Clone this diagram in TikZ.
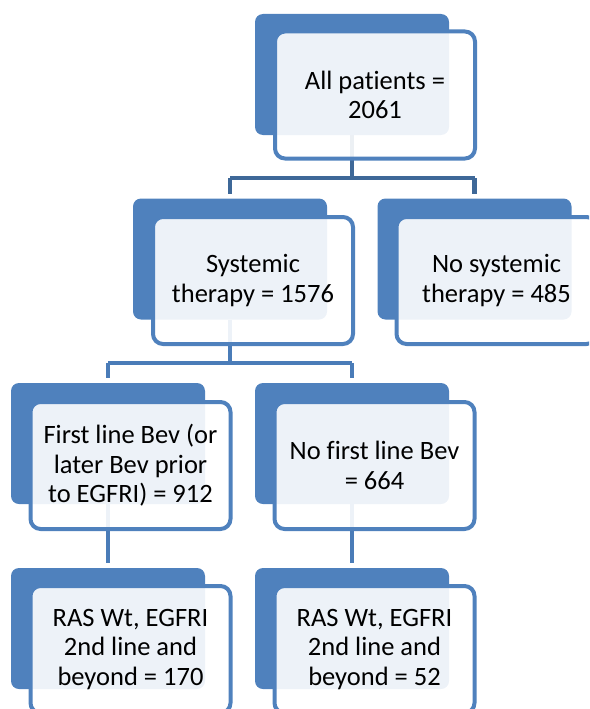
\documentclass[tikz,border=0pt]{standalone}
\usepackage{fontspec}
\setmainfont[Ligatures=NoCommon]{Carlito}
\usetikzlibrary{calc}
\definecolor{accent}{HTML}{4F81BD}
\definecolor{connA}{HTML}{3E6898}
\definecolor{connB}{HTML}{4A7CB8}
\tikzset{
  backbox/.style={rectangle, rounded corners=8pt, fill=accent, draw=none,
    minimum width=194pt, minimum height=121pt, inner sep=0pt},
  frontbox/.style={rectangle, rounded corners=10pt, draw=accent, line width=4pt,
    fill=white, fill opacity=0.9, text opacity=1, minimum width=200pt,
    minimum height=127pt, inner sep=0pt, align=center,
    font=\fontsize{26.5pt}{29.5pt}\selectfont},
  connone/.style={draw=connA, line width=4.5pt},
  conntwo/.style={draw=connB, line width=4.5pt}
}
\begin{document}
\begin{tikzpicture}[x=1pt,y=-1pt]
\useasboundingbox (0,0) rectangle (589,709);
\begin{scope}
\clip (0,0) rectangle (589,709);
\coordinate (ctop) at (352,74.5);
\coordinate (csys) at (230,259);
\coordinate (cnosys) at (474.5,259);
\coordinate (cbev) at (108,443.5);
\coordinate (cnobev) at (352,443.5);
\coordinate (cras1) at (108,628.5);
\coordinate (cras2) at (352,628.5);
% connectors (drawn first, under the boxes)
\draw[connone] ($(ctop)+(0,60.5)$) -- ($(ctop)+(0,103.5)$) coordinate (j1);
\draw[connone] ($(csys)+(0,-81)$) coordinate (j1a) -- ($(cnosys)+(0,-81)$) coordinate (j1b);
\draw[connone] (j1a) -- ($(csys)+(0,-65.5)$);
\draw[connone] (j1b) -- ($(cnosys)+(0,-65.5)$);
\draw[conntwo] ($(csys)+(0,60.5)$) -- ($(csys)+(0,104)$);
\draw[conntwo] ($(cbev)+(0,-80.5)$) coordinate (j2a) -- ($(cnobev)+(0,-80.5)$) coordinate (j2b);
\draw[conntwo] (j2a) -- ($(cbev)+(0,-65.5)$);
\draw[conntwo] (j2b) -- ($(cnobev)+(0,-65.5)$);
\draw[conntwo] ($(cbev)+(0,60.5)$) -- ($(cras1)+(0,-65.5)$);
\draw[conntwo] ($(cnobev)+(0,60.5)$) -- ($(cras2)+(0,-65.5)$);
% back boxes
\node[backbox] (btop) at (ctop) {};
\node[backbox] (bsys) at (csys) {};
\node[backbox] (bnosys) at (cnosys) {};
\node[backbox] (bbev) at (cbev) {};
\node[backbox] (bnobev) at (cnobev) {};
\node[backbox] (bras1) at (cras1) {};
\node[backbox] (bras2) at (cras2) {};
% front boxes
\node[frontbox] (top) at ($(ctop)+(23,20.5)$) {All patients =\\2061};
\node[frontbox] (sys) at ($(csys)+(23,21.5)$) {Systemic\\therapy = 1576};
\node[frontbox] (nosys) at ($(cnosys)+(22,21.5)$) {No systemic\\therapy = 485};
\node[frontbox] (bev) at ($(cbev)+(22.5,22)$) {First line Bev (or\\later Bev prior\\to EGFRI) = 912};
\node[frontbox] (nobev) at ($(cnobev)+(22.5,22)$) {No first line Bev\\= 664};
\node[frontbox] (ras1) at ($(cras1)+(22.5,21)$) {RAS Wt, EGFRI\\2nd line and\\beyond = 170};
\node[frontbox] (ras2) at ($(cras2)+(22.5,21)$) {RAS Wt, EGFRI\\2nd line and\\beyond = 52};
\end{scope}
\end{tikzpicture}
\end{document}
